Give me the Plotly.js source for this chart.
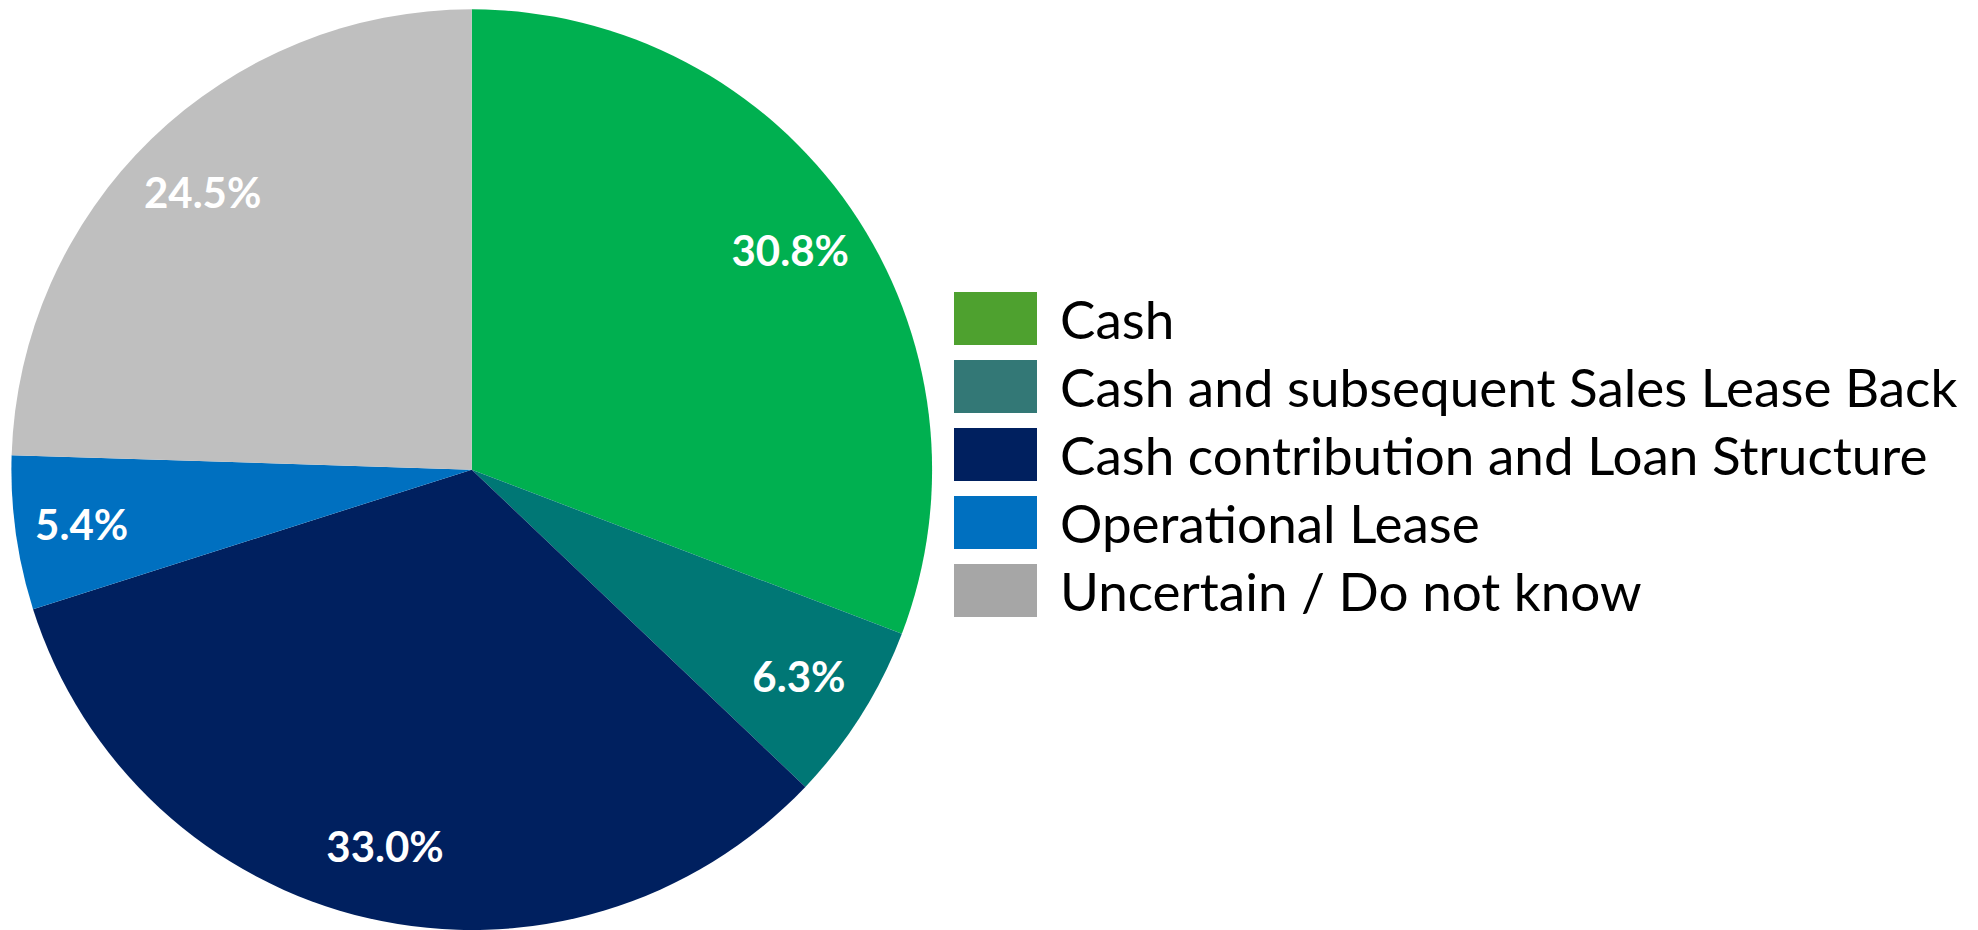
<!DOCTYPE html>
<html>
<head>
<meta charset="utf-8">
<script src="https://cdn.plot.ly/plotly-3.0.1.min.js"></script>
<style>html,body{margin:0;padding:0;background:#fff;}#chart{width:1978px;height:930px;} text{font-variant-ligatures:none;}</style>
</head>
<body>
<div id="chart"></div>
<script>
const labels = ["Cash", "Cash and subsequent Sales Lease Back", "Cash contribution and Loan Structure", "Operational Lease", "Uncertain / Do not know"];
const values = [30.8, 6.3, 33.0, 5.4, 24.5];
const sliceColors = ["#00B050", "#007775", "#00205F", "#0070C0", "#BFBFBF"];
const legendColors = ["#4EA12F", "#337876", "#00205F", "#0070C0", "#A6A6A6"];

const W = 1978, H = 930;
const font = "Lato, 'Open Sans', 'Liberation Sans', sans-serif";
const dom = {x: [0.0055, 0.4715], y: [0, 0.99]};

// Filled slices
const pieTrace = {
  type: "pie",
  labels: labels,
  values: values,
  sort: false,
  direction: "clockwise",
  rotation: 0,
  marker: {colors: sliceColors, line: {width: 0}},
  textinfo: "none",
  hoverinfo: "label+value",
  showlegend: false,
  domain: dom
};

// Transparent ring carrying the percentage labels (places them toward the rim)
const labelTrace = {
  type: "pie",
  labels: labels,
  values: values,
  sort: false,
  direction: "clockwise",
  rotation: 0,
  hole: 0.68,
  marker: {colors: labels.map(() => "rgba(0,0,0,0)"), line: {width: 0}},
  texttemplate: "%{value:.1f}%",
  textposition: "inside",
  insidetextorientation: "horizontal",
  textfont: {family: font, size: 42, color: "#ffffff", weight: "bold"},
  hoverinfo: "skip",
  showlegend: false,
  domain: dom
};

// Manual legend (legend swatch colours differ from slice colours in the reference)
const shapes = [], annotations = [];
const legX0 = 954, legX1 = 1037, legTop = 292, pitch = 68, sw = 53;
labels.forEach((lab, i) => {
  const y0 = legTop + i * pitch, y1 = y0 + sw;
  shapes.push({type: "rect", xref: "paper", yref: "paper",
    x0: legX0 / W, x1: legX1 / W, y0: 1 - y1 / H, y1: 1 - y0 / H,
    fillcolor: legendColors[i], line: {width: 0}});
  annotations.push({xref: "paper", yref: "paper", x: 1058 / W, y: 1 - (y0 + sw / 2) / H,
    xanchor: "left", yanchor: "middle", showarrow: false, text: lab,
    font: {family: font, size: 53, color: "#000000"}});
});

const layout = {
  width: W, height: H,
  margin: {l: 0, r: 0, t: 0, b: 0},
  paper_bgcolor: "#ffffff",
  showlegend: false,
  shapes: shapes,
  annotations: annotations
};

Plotly.newPlot("chart", [pieTrace, labelTrace], layout, {displayModeBar: false, staticPlot: true});
</script>
</body>
</html>
